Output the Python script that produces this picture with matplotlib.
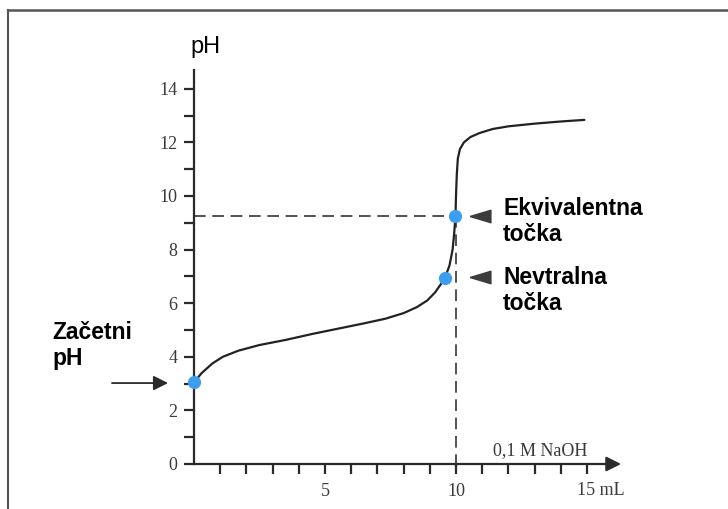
import numpy as np
import matplotlib.pyplot as plt
from matplotlib.lines import Line2D

# Titracijska krivulja (odčitano s slike)
vol = [0, 0.3, 0.7, 1.1, 1.7, 2.5, 3.5, 4.5, 5.5, 6.5, 7.3, 8.0, 8.5, 8.9,
       9.2, 9.45, 9.58, 9.75, 9.87, 9.93, 9.98, 10.0, 10.03, 10.07, 10.15,
       10.3, 10.55, 10.9, 11.4, 12.0, 13.0, 14.0, 14.9]
ph = [3.05, 3.4, 3.75, 4.0, 4.23, 4.44, 4.63, 4.85, 5.05, 5.25, 5.42, 5.63,
      5.85, 6.1, 6.4, 6.75, 6.95, 7.4, 8.0, 8.6, 9.25, 10.0, 10.8, 11.4,
      11.75, 12.0, 12.2, 12.35, 12.5, 12.6, 12.7, 12.78, 12.84]

# Posebne točke: začetni pH, nevtralna, ekvivalentna
pt_vol = [0, 9.58, 9.98]
pt_ph = [3.05, 6.95, 9.25]
eq_vol, eq_ph = 10.0, 9.25

y_major = [0, 2, 4, 6, 8, 10, 12, 14]
y_minor = [1, 3, 5, 7, 9, 11, 13]
x_ticks = list(range(1, 16))
x_labels = {5: '5', 10: '10'}

fig = plt.figure(figsize=(7.28, 5.09), dpi=100)
ax = fig.add_axes([194 / 728, 45 / 509, 16.5 * 26.2 / 728, 14.7 * 26.8 / 509])
ax.set_xlim(0, 16.5)
ax.set_ylim(0, 14.7)
ax.patch.set_alpha(0)

for s in ['top', 'right', 'bottom']:
    ax.spines[s].set_visible(False)
ax.spines['left'].set_linewidth(1.6)
ax.spines['left'].set_color('#2a2a2a')

serif = 'Liberation Serif'
ax.set_yticks(y_major)
ax.set_yticks(y_minor, minor=True)
ax.set_yticklabels([str(v) for v in y_major], fontfamily=serif, fontsize=13, color='#3a3a3a')
ax.set_xticks(x_ticks)
ax.set_xticklabels([x_labels.get(v, '') for v in x_ticks], fontfamily=serif,
                   fontsize=13, color='#3a3a3a')
ax.tick_params(axis='y', which='both', direction='out', length=7, width=1.6,
               color='#2a2a2a', pad=5)
ax.tick_params(axis='x', direction='out', length=7, width=1.6, color='#2a2a2a', pad=7)
ax.text(14.62, -1.0, '15 mL', fontfamily=serif, fontsize=13, color='#3a3a3a',
        ha='left', va='center')

# x os s puščico
ax.annotate('', xy=(16.3, 0), xytext=(0, 0), annotation_clip=False,
            arrowprops=dict(arrowstyle='-|>', color='#2a2a2a', lw=1.6,
                            mutation_scale=22, shrinkA=0, shrinkB=0))
ax.text(15.0, 0.18, '0,1 M NaOH', fontfamily=serif, fontsize=13, color='#3a3a3a',
        ha='right', va='bottom')

# črtkane pomožne črte
ax.plot([0, eq_vol], [eq_ph, eq_ph], color='#333333', lw=1.2, dashes=(7, 4))
ax.plot([eq_vol, eq_vol], [eq_ph, 0], color='#333333', lw=1.2, dashes=(7, 4))

ax.plot(vol, ph, color='#222222', lw=1.6, solid_capstyle='round')
ax.plot(pt_vol, pt_ph, 'o', color='#3d9ef0', markersize=8.5, clip_on=False, zorder=5)

ax.text(0.42, 15.55, 'pH', fontfamily='Liberation Sans', fontsize=17, ha='center',
        va='center')

tri = [(-1, 0), (1, 0.6), (1, -0.6), (-1, 0)]
ax.plot([10.92, 10.92], [9.25, 6.98], linestyle='none', marker=tri, markersize=15,
        color='#3c3c3c', clip_on=False)

bold = dict(fontfamily='Liberation Sans', fontsize=16.5, fontweight='bold',
            ha='left', va='top', linespacing=1.2)
ax.text(11.8, 9.98, 'Ekvivalentna\ntočka', **bold)
ax.text(11.8, 7.4, 'Nevtralna\ntočka', **bold)
ax.text(-5.4, 5.35, 'Začetni\npH', **bold)

ax.annotate('', xy=(-0.99, 3.02), xytext=(-3.13, 3.02), annotation_clip=False,
            arrowprops=dict(arrowstyle='-|>', color='#2a2a2a', lw=1.3,
                            mutation_scale=22, shrinkA=0, shrinkB=0))

# okvir
fig.add_artist(Line2D([8 / 728, 1], [1 - 10 / 509, 1 - 10 / 509], color='#555555', lw=1.8))
fig.add_artist(Line2D([8 / 728, 8 / 728], [0, 1 - 10 / 509], color='#555555', lw=1.5))

fig.savefig('out.png', dpi=100)
